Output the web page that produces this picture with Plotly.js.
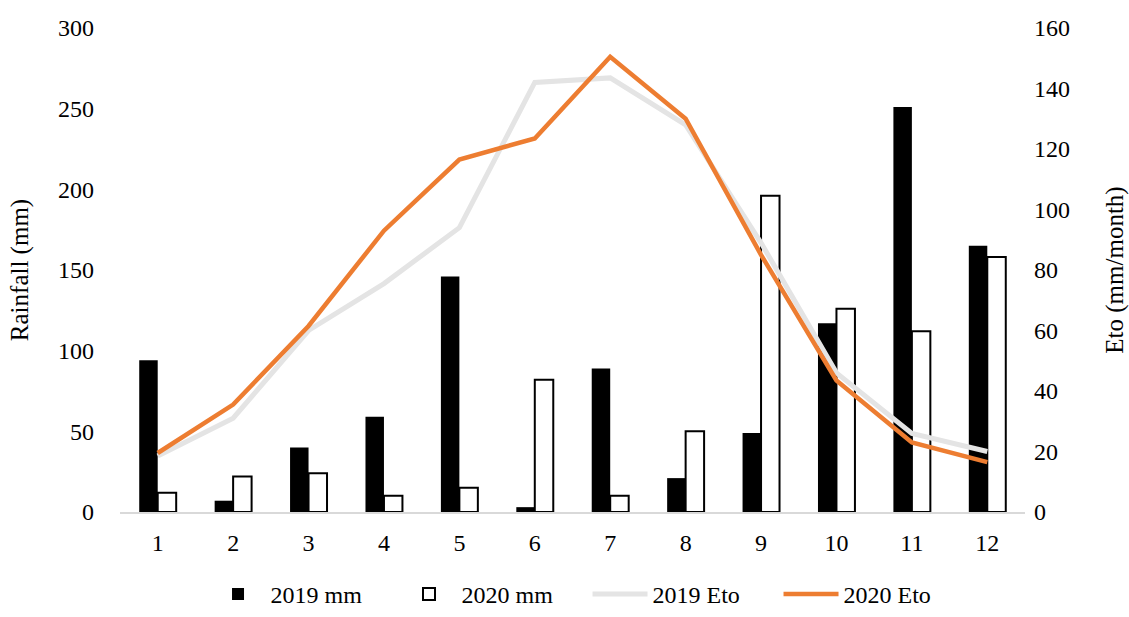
<!DOCTYPE html>
<html>
<head>
<meta charset="utf-8">
<script src="https://cdn.plot.ly/plotly-3.0.1.min.js"></script>
<style>
  html, body { margin: 0; padding: 0; background: #ffffff; }
  #chart { width: 1129px; height: 617px; }
</style>
</head>
<body>
<div id="chart"></div>
<script>
const months = ["1", "2", "3", "4", "5", "6", "7", "8", "9", "10", "11", "12"];
const rain2019 = [94, 7, 40, 59, 146, 3, 89, 21, 49, 117, 251, 165];
const rain2020 = [12, 22, 24, 10, 15, 82, 10, 50, 196, 126, 112, 158];
const eto2019 = [18.5, 31, 60, 75.5, 94, 142, 143.5, 128, 89, 46, 26, 20];
const eto2020 = [19.5, 35.5, 61.5, 93, 116.5, 123.5, 150.5, 130, 85, 43.5, 23, 16.5];
const leftTicks = [0, 50, 100, 150, 200, 250, 300];
const rightTicks = [0, 20, 40, 60, 80, 100, 120, 140, 160];

const FONT = "Liberation Serif, Times New Roman, serif";

const traces = [
  {
    type: "bar", name: "2019 mm", x: months, y: rain2019,
    marker: { color: "#000000", line: { color: "#000000", width: 0 } },
    hoverinfo: "skip"
  },
  {
    type: "bar", name: "2020 mm", x: months, y: rain2020,
    marker: { color: "#ffffff", line: { color: "#000000", width: 2 } },
    hoverinfo: "skip"
  },
  {
    type: "scatter", mode: "lines", name: "2019 Eto", x: months, y: eto2019,
    yaxis: "y2", line: { color: "#E4E4E4", width: 5 },
    hoverinfo: "skip"
  },
  {
    type: "scatter", mode: "lines", name: "2020 Eto", x: months, y: eto2020,
    yaxis: "y2", line: { color: "#ED7D31", width: 4.5 },
    hoverinfo: "skip"
  }
];

const layout = {
  width: 1129, height: 617,
  margin: { l: 120, r: 104, t: 28, b: 105, autoexpand: false },
  paper_bgcolor: "#ffffff", plot_bgcolor: "#ffffff",
  font: { family: FONT, size: 24, color: "#000000" },
  barmode: "group", bargap: 0.51, bargroupgap: 0,
  showlegend: true,
  legend: {
    orientation: "h", x: 0.5166, xanchor: "center", y: 0, yref: "container", yanchor: "bottom",
    font: { family: FONT, size: 24, color: "#000000" },
    itemwidth: 55, traceorder: "normal", tracegroupgap: 0,
    entrywidth: 121, entrywidthmode: "pixels"
  },
  xaxis: {
    type: "category", showgrid: false, zeroline: false,
    showline: true, linecolor: "#d9d9d9", linewidth: 1.5,
    ticks: "", ticklabelstandoff: 9,
    tickfont: { family: FONT, size: 24 }
  },
  yaxis: {
    range: [0, 300], tickvals: leftTicks, ticktext: leftTicks.map(String),
    showgrid: false, zeroline: false, showline: false, ticks: "",
    ticklabelstandoff: 25,
    tickfont: { family: FONT, size: 24 },
    title: { text: "Rainfall (mm)", font: { family: FONT, size: 25 }, standoff: 22 }
  },
  yaxis2: {
    range: [0, 160], tickvals: rightTicks, ticktext: rightTicks.map(String),
    overlaying: "y", side: "right",
    showgrid: false, zeroline: false, showline: false, ticks: "",
    ticklabelstandoff: 8,
    tickfont: { family: FONT, size: 24 },
    title: { text: "Eto (mm/month)", font: { family: FONT, size: 25 }, standoff: 38 }
  }
};

Plotly.newPlot("chart", traces, layout, { staticPlot: true, displayModeBar: false });
</script>
</body>
</html>
